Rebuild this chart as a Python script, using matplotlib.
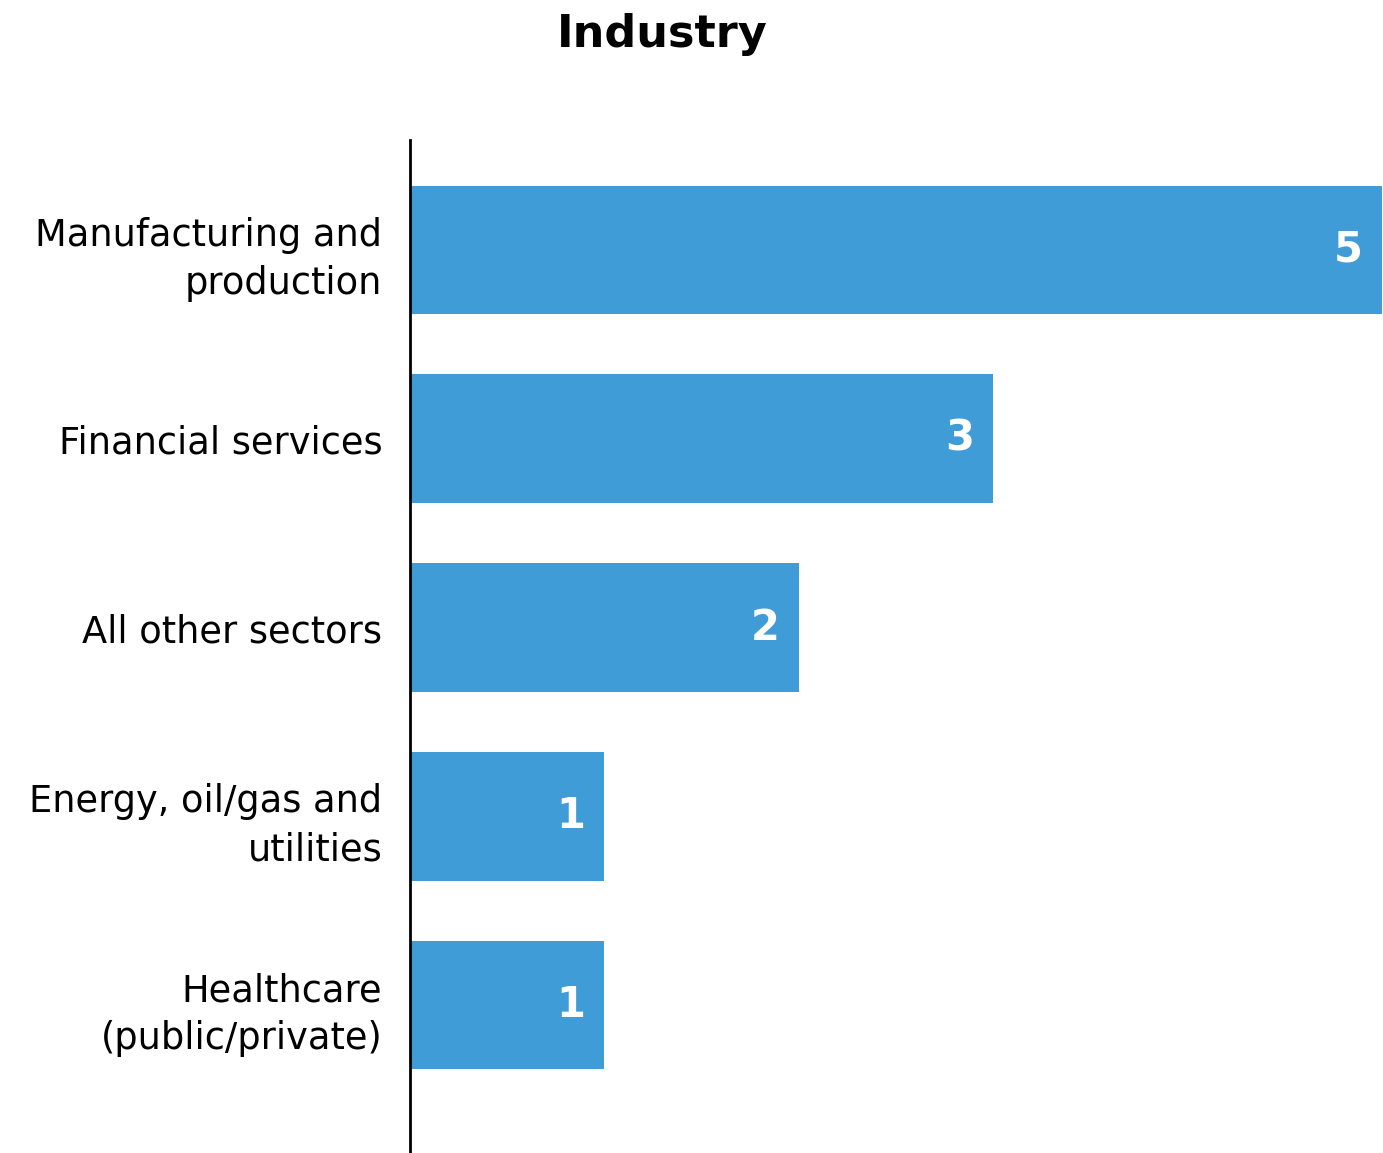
import matplotlib.pyplot as plt

categories = ["Manufacturing and\nproduction", "Financial services", "All other sectors",
              "Energy, oil/gas and\nutilities", "Healthcare\n(public/private)"]
counts = [5, 3, 2, 1, 1]

plt.rcParams['font.family'] = ['DejaVu Sans']

fig = plt.figure(figsize=(13.83, 11.53), dpi=100)
ax = fig.add_axes([0.2965, 0.0, 0.7028, 0.8786])

pos = list(range(len(categories)))
ax.barh(pos, counts, height=0.68, color='#409cd6')

for y, v in zip(pos, counts):
    ax.text(v - 0.1, y, str(v), ha='right', va='center', color='white',
            fontsize=30, fontweight='bold')

ax.set_xlim(0, 5)
ax.set_ylim(4.783, -0.582)
ax.set_yticks(pos)
ax.set_yticklabels(categories, fontsize=26.5, linespacing=1.38)
ax.tick_params(axis='y', length=0, pad=20)
ax.set_xticks([])
for side in ['top', 'right', 'bottom']:
    ax.spines[side].set_visible(False)
ax.spines['left'].set_linewidth(2)

fig.text(0.479, 0.97, "Industry", ha='center', va='center', fontsize=32, fontweight='bold')

plt.savefig("out.png", dpi=100)
